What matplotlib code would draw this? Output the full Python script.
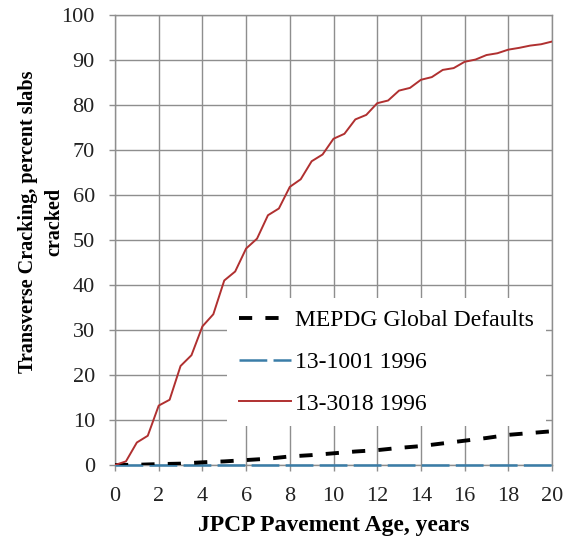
import matplotlib
matplotlib.use("Agg")
import matplotlib.pyplot as plt
import numpy as np

# Pavement age (years) at half-year steps for the cracking curves
age_half = [i * 0.5 for i in range(41)]
crack_3018 = [0.0, 0.8, 5.0, 6.5, 13.2, 14.5, 22.0, 24.4, 30.8, 33.5,
              41.0, 43.0, 48.1, 50.3, 55.5, 57.0, 61.8, 63.5, 67.5, 69.0,
              72.5, 73.6, 76.8, 77.8, 80.4, 81.0, 83.2, 83.8, 85.6, 86.2,
              87.8, 88.2, 89.6, 90.1, 91.1, 91.5, 92.3, 92.7, 93.2, 93.5, 94.1]

# Yearly values for the global-default and 13-1001 predictions
age_year = list(range(21))
crack_global = [0.0, 0.05, 0.2, 0.3, 0.6, 0.8, 1.1, 1.4, 1.9, 2.2, 2.6,
                3.0, 3.3, 3.8, 4.2, 4.8, 5.4, 6.0, 6.7, 7.1, 7.5]
crack_1001 = [0.0] * 21

labels = ["MEPDG Global Defaults", "13-1001 1996", "13-3018 1996"]
x_ticks = list(range(0, 21, 2))
y_ticks = list(range(0, 101, 10))

plt.rcParams['font.family'] = ['Liberation Serif', 'DejaVu Serif']
plt.rcParams['lines.scale_dashes'] = False

fig = plt.figure(figsize=(5.69, 5.38), dpi=100)
ax = fig.add_axes([115 / 569, 1 - 465 / 538, 437 / 569, 450 / 538])

grid_col = '#8e8e8e'
ax.set_xlim(0, 20)
ax.set_ylim(0, 100)
ax.set_xticks(x_ticks)
ax.set_yticks(y_ticks)
ax.grid(True, color=grid_col, linewidth=1.0, zorder=0)
ax.set_axisbelow(True)
for s in ax.spines.values():
    s.set_color(grid_col)
    s.set_linewidth(1.0)
ax.tick_params(axis='both', direction='out', length=4.5, width=1.0,
               color=grid_col, labelsize=16, labelcolor='#222222')
ax.tick_params(axis='y', pad=10)
ax.tick_params(axis='x', pad=11)

l1, = ax.plot(age_year, crack_global, color='black', linewidth=2.8,
              dashes=(9.5, 9.5), zorder=4, label=labels[0])
l2, = ax.plot(age_year, crack_1001, color='#3a7da8', linewidth=1.8,
              dashes=(20, 4.5), zorder=3, label=labels[1], clip_on=False)
l3, = ax.plot(age_half, crack_3018, color='#b03030', linewidth=1.4,
              zorder=5, label=labels[2])

leg = ax.legend(handles=[l1, l2, l3], loc='upper left',
                bbox_to_anchor=((227 - 115) / 437, (465 - 298) / 450),
                fontsize=17, frameon=True, fancybox=False, framealpha=1,
                facecolor='white', edgecolor='none', handlelength=2.2,
                handletextpad=0.2, labelspacing=0.85, borderpad=0.5,
                borderaxespad=0)
leg.set_zorder(6)

ax.set_xlabel("JPCP Pavement Age, years", fontsize=17, fontweight='bold',
              labelpad=7)
fig.text(41 / 569, 1 - 222 / 538, "Transverse Cracking, percent slabs\ncracked",
         rotation=90, ha='center', va='center', fontsize=14.5,
         fontweight='bold', multialignment='center', linespacing=1.45)

fig.savefig("out.png", dpi=100)
